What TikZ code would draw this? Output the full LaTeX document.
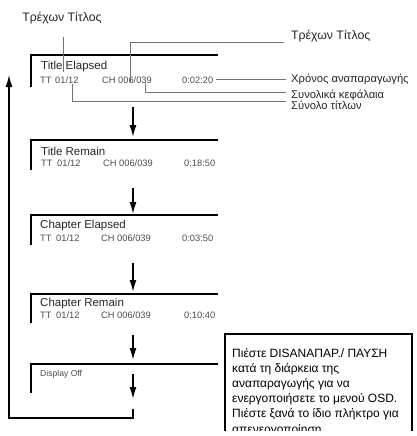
\documentclass[tikz,border=0pt]{standalone}
\usepackage{fontspec}
\setmainfont{Liberation Sans}
\usetikzlibrary{arrows.meta}
\begin{document}
\begin{tikzpicture}[x=1pt,y=-1pt,
  lbl/.style={inner sep=0pt, anchor=base west, font=\fontsize{11.2}{12}\selectfont, text=black!85},
  ttl/.style={inner sep=0pt, anchor=west, font=\fontsize{11.5}{12}\selectfont, text=black!85},
  row/.style={inner sep=0pt, anchor=west, font=\fontsize{9.3}{10}\selectfont, text=black!70},
  frame/.style={line width=2.3pt},
  flow/.style={line width=1.5pt, -{Latex[length=12pt,width=7pt]}},
  loopline/.style={line width=1.4pt},
  lead/.style={draw=black!55, line width=0.8pt},
  notetext/.style={inner sep=0pt, anchor=base west, font=\fontsize{12}{15}\selectfont}
]
\useasboundingbox (0,0) rectangle (416,436);

% ---- frames ----
\draw[frame] (218,55) -- (31,55) -- (31,87);
\draw[frame] (218,140) -- (31,140) -- (31,170);
\draw[frame] (218,215) -- (31,215) -- (31,245);
\draw[frame] (218,294) -- (31,294) -- (31,323);
\draw[frame] (218,364) -- (31,364) -- (31,393);

% ---- box texts ----
\node[ttl] (t1) at (41,67) {Title Elapsed};
\node[row] (tt1) at (40,80) {TT};
\node[row] (n1) at (55,80) {01/12};
\node[row] (ch1) at (102,80) {CH};
\node[row] (c1) at (118,80) {006/039};
\node[row] (tm1) at (182,80) {0:02:20};

\node[ttl] (t2) at (41,151) {Title Remain};
\node[row] (tt2) at (41,163) {TT};
\node[row] (n2) at (57,163) {01/12};
\node[row] (ch2) at (103,163) {CH};
\node[row] (c2) at (119,163) {006/039};
\node[row] (tm2) at (184,163) {0:18:50};

\node[ttl] (t3) at (40,226) {Chapter Elapsed};
\node[row] (tt3) at (40,238) {TT};
\node[row] (n3) at (56,238) {01/12};
\node[row] (ch3) at (101,238) {CH};
\node[row] (c3) at (117,238) {006/039};
\node[row] (tm3) at (182,238) {0:03:50};

\node[ttl] (t4) at (40,304) {Chapter Remain};
\node[row] (tt4) at (40,315) {TT};
\node[row] (n4) at (56,315) {01/12};
\node[row] (ch4) at (101,315) {CH};
\node[row] (c4) at (117,315) {006/039};
\node[row] (tm4) at (184,315) {0:10:40};

\node[row, font=\fontsize{8.6}{10}\selectfont] (t5) at (40,374) {Display Off};

% ---- flow arrows ----
\coordinate (a1s) at (133,107); \coordinate (a1e) at (133,137);
\coordinate (a2s) at (133,188); \coordinate (a2e) at (133,214);
\coordinate (a3s) at (133,263); \coordinate (a3e) at (133,292);
\coordinate (a4s) at (133,335); \coordinate (a4e) at (133,360);
\coordinate (a5s) at (133,374); \coordinate (a5e) at (133,399);
\draw[flow] (a1s) -- (a1e);
\draw[flow] (a2s) -- (a2e);
\draw[flow] (a3s) -- (a3e);
\draw[flow] (a4s) -- (a4e);
\draw[flow] (a5s) -- (a5e);

% ---- loop back ----
\coordinate (ls) at (133,409);
\coordinate (lc) at (133,418);
\coordinate (ld) at (9,418);
\coordinate (le) at (9,75);
\draw[loopline, -{Latex[length=12pt,width=7pt]}] (ls) -- (lc) -- (ld) -- (le);

% ---- leaders and labels ----
\node[inner sep=0pt, anchor=base, font=\fontsize{12.3}{13}\selectfont, text=black!85] (cur1) at (62,22) {Τρέχων Τίτλος};
\coordinate (cur1a) at (63,37);
\coordinate (cur1b) at (63,72);
\draw[lead] (cur1a) -- (cur1b);

\node[lbl, font=\fontsize{12.3}{13}\selectfont] (cur2) at (291,40) {Τρέχων Τίτλος};
\coordinate (cur2a) at (130,82);
\coordinate (cur2b) at (130,42);
\coordinate (cur2c) at (284,42);
\draw[lead] (cur2a) -- (cur2b) -- (cur2c);

\begin{scope}
\clip (286,60) rectangle (416,83);
\node[lbl] (play) at (291,82.5) {Χρόνος αναπαραγωγής};
\end{scope}
\coordinate (playa) at (216,79);
\coordinate (playb) at (286,79);
\draw[lead] (playa) -- (playb);

\begin{scope}
\clip (286,84) rectangle (416,99.3);
\node[lbl] (chap) at (291,98.5) {Συνολικά κεφάλαια};
\end{scope}
\coordinate (chapa) at (145,83);
\coordinate (chapb) at (145,92);
\coordinate (chapc) at (286,92);
\draw[lead] (chapa) -- (chapb) -- (chapc);

\node[lbl] (tot) at (291,109) {Σύνολο τίτλων};
\coordinate (tota) at (72,84);
\coordinate (totb) at (72,101);
\coordinate (totc) at (286,101);
\draw[lead] (tota) -- (totb) -- (totc);

% ---- note box ----
\begin{scope}
\clip (0,0) rectangle (416,430);
\draw[line width=1.6pt] (225,440) -- (225,334) -- (412,334) -- (412,440);
\node[notetext] (note1) at (232,357) {Πιέστε DISANAΠΑΡ./ ΠΑΥΣΗ};
\node[notetext] (note2) at (232,372.2) {κατά τη διάρκεια της};
\node[notetext] (note3) at (232,387.4) {αναπαραγωγής για να};
\node[notetext] (note4) at (232,402.6) {ενεργοποιήσετε το μενού OSD.};
\node[notetext] (note5) at (232,417.8) {Πιέστε ξανά το ίδιο πλήκτρο για};
\node[notetext] (note6) at (232,433) {απενεργοποίηση};
\end{scope}
\end{tikzpicture}
\end{document}
